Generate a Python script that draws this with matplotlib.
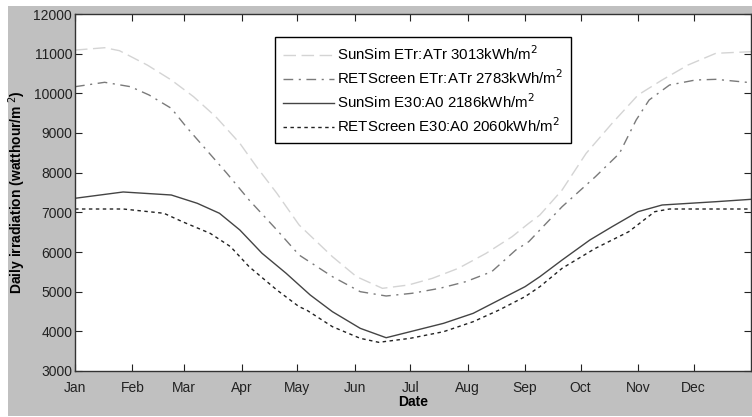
import matplotlib
matplotlib.use("Agg")
import matplotlib.pyplot as plt
from matplotlib.patches import Rectangle

plt.rcParams['font.family'] = ['Liberation Sans', 'DejaVu Sans']

month_labels = ['Jan', 'Feb', 'Mar', 'Apr', 'May', 'Jun', 'Jul', 'Aug', 'Sep', 'Oct', 'Nov', 'Dec']
month_days = [0, 31, 59, 90, 120, 151, 181, 212, 243, 273, 304, 334]

labels = ['SunSim ETr:ATr 3013kWh/m$^2$',
          'RETScreen ETr:ATr 2783kWh/m$^2$',
          'SunSim E30:A0 2186kWh/m$^2$',
          'RETScreen E30:A0 2060kWh/m$^2$']

sunsim_etr_day = [0, 16, 24, 39, 52, 64, 76, 89, 98, 109, 121, 139, 152, 166, 180, 193, 207,
                  222, 236, 245, 251, 263, 276, 290, 304, 317, 331, 346, 365]
sunsim_etr_val = [11090, 11150, 11075, 10714, 10336, 9916, 9411, 8740, 8150, 7480, 6681, 5882,
                  5378, 5084, 5168, 5337, 5589, 5967, 6386, 6723, 6933, 7563, 8488, 9244, 9958,
                  10336, 10714, 11009, 11050]

retscreen_etr_day = [0, 16, 30, 40, 52, 60, 71, 82, 94, 109, 121, 139, 154, 168, 182, 197, 211,
                     225, 238, 245, 251, 263, 281, 294, 303, 310, 321, 335, 346, 365]
retscreen_etr_val = [10167, 10278, 10167, 9958, 9622, 9159, 8571, 7984, 7311, 6555, 5924, 5378,
                     5000, 4891, 4959, 5085, 5252, 5504, 6050, 6260, 6555, 7142, 7899, 8488, 9328,
                     9832, 10210, 10336, 10353, 10268]

sunsim_e30_day = [0, 26, 52, 66, 78, 89, 101, 114, 121, 127, 139, 154, 168, 181, 199, 215, 229,
                  243, 251, 263, 278, 290, 304, 317, 346, 365]
sunsim_e30_val = [7354, 7513, 7437, 7228, 6976, 6555, 5967, 5463, 5168, 4916, 4495, 4076, 3839,
                  3991, 4202, 4454, 4790, 5126, 5378, 5798, 6303, 6638, 7016, 7185, 7268, 7328]

retscreen_e30_day = [0, 26, 48, 58, 73, 84, 94, 109, 121, 125, 139, 154, 164, 181, 199, 215, 229,
                     243, 251, 263, 281, 299, 313, 321, 346, 365]
retscreen_e30_val = [7084, 7084, 6976, 6764, 6470, 6134, 5630, 5042, 4621, 4538, 4117, 3824, 3723,
                     3824, 3991, 4243, 4538, 4874, 5126, 5589, 6093, 6512, 7016, 7084, 7084, 7084]

fig = plt.figure(figsize=(7.52, 4.17), dpi=100, facecolor='white')
fig.patches.append(Rectangle((8 / 752, 1 / 417), 1 - 8 / 752, 410 / 417,
                             transform=fig.transFigure, facecolor='#c0c0c0',
                             edgecolor='none', zorder=-10))

ax = fig.add_axes([75 / 752, 1 - 371 / 417, 676 / 752, 357 / 417])
ax.set_facecolor('white')

ax.plot(sunsim_etr_day, sunsim_etr_val, color='#d4d4d4', lw=1.0, ls=(0, (9, 4)), label=labels[0])
ax.plot(retscreen_etr_day, retscreen_etr_val, color='#7a7a7a', lw=1.0, ls=(0, (7, 4, 1.5, 4)), label=labels[1])
ax.plot(sunsim_e30_day, sunsim_e30_val, color='#444444', lw=1.0, ls='-', label=labels[2])
ax.plot(retscreen_e30_day, retscreen_e30_val, color='#222222', lw=1.0, ls=(0, (2.5, 2.5)), label=labels[3])

ax.set_xlim(0, 365)
ax.set_ylim(3000, 12000)
ax.set_xticks(month_days)
ax.set_xticklabels(month_labels)
ax.set_yticks(range(3000, 12001, 1000))
ax.tick_params(direction='in', length=5, width=0.8, top=True, right=True,
               labelsize=10, colors='#222222', pad=2)
ax.tick_params(axis='x', pad=7)
for s in ax.spines.values():
    s.set_color('#333333')
    s.set_linewidth(1.0)

ax.set_xlabel('Date', fontsize=10, fontweight='bold', labelpad=0)
ax.set_ylabel('Daily irradiation (watthour/m$^{\\ 2}$)', fontsize=10, fontweight='bold', labelpad=4)

leg = ax.legend(loc='upper left', bbox_to_anchor=(0.296, 0.936), fontsize=10.8,
                frameon=True, fancybox=False, edgecolor='black', framealpha=1,
                handlelength=3.4, handletextpad=0.25, labelspacing=0.36, borderpad=0.5,
                borderaxespad=0)
leg.get_frame().set_linewidth(1.0)

fig.savefig('out.png', dpi=100, facecolor=fig.get_facecolor())
